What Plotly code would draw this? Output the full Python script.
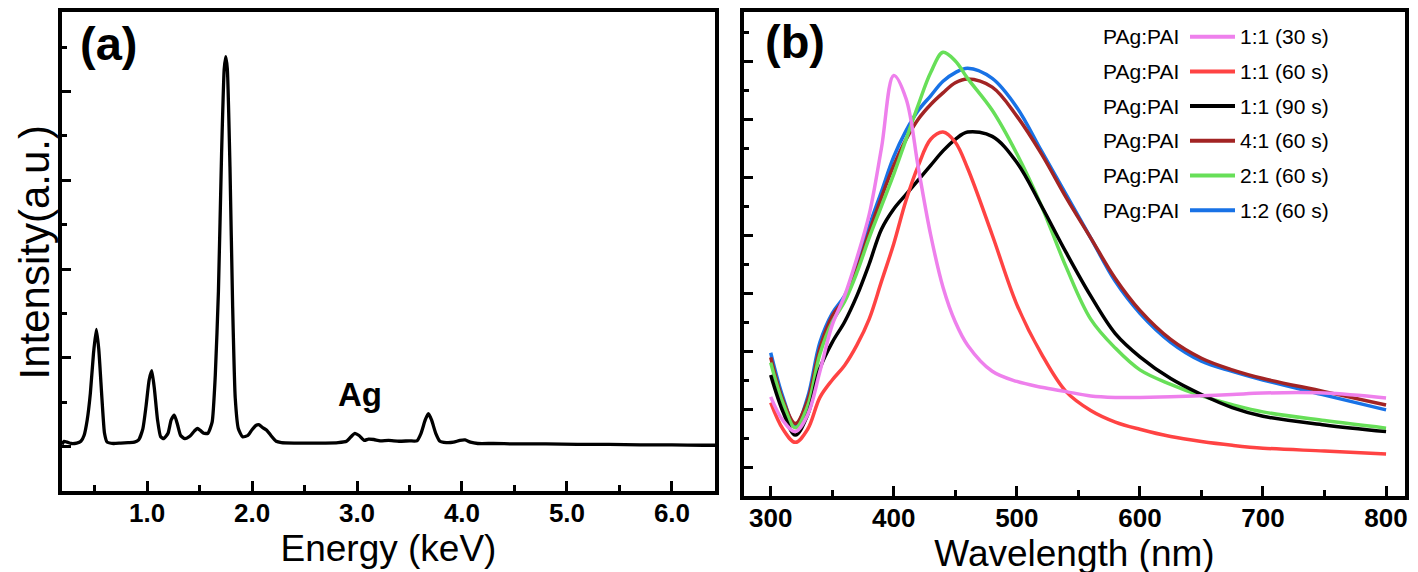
import plotly.graph_objects as go

W, H = 1418, 572
PAGE_OFFSET = 8  # default body margin of the html page

# ---------------- Panel (a): EDS spectrum ----------------
energy_kev = [0.19, 0.21, 0.24, 0.28, 0.33, 0.37, 0.40, 0.43, 0.46, 0.49, 0.517, 0.54, 0.57, 0.595,
              0.62, 0.68, 0.75, 0.82, 0.88, 0.92, 0.96, 0.99, 1.02, 1.045, 1.07, 1.10, 1.13, 1.16,
              1.20, 1.23, 1.26, 1.29, 1.32, 1.36, 1.41, 1.45, 1.48, 1.51, 1.54, 1.58, 1.62, 1.65,
              1.68, 1.71, 1.735, 1.75, 1.765, 1.79, 1.815, 1.84, 1.87, 1.91, 1.96, 2.00, 2.04, 2.07,
              2.10, 2.14, 2.18, 2.23, 2.28, 2.40, 2.55, 2.70, 2.82, 2.90, 2.95, 2.98, 3.02, 3.07,
              3.11, 3.16, 3.22, 3.30, 3.40, 3.50, 3.57, 3.61, 3.65, 3.68, 3.71, 3.75, 3.79, 3.85,
              3.92, 3.98, 4.03, 4.08, 4.15, 4.30, 4.50, 4.80, 5.10, 5.40, 5.70, 6.00, 6.30, 6.41]
eds_intensity = [1.05, 1.12, 1.10, 1.07, 1.08, 1.12, 1.25, 1.6, 2.2, 3.1, 3.64, 3.2, 2.1, 1.3,
                 1.10, 1.07, 1.08, 1.09, 1.10, 1.15, 1.4, 1.9, 2.5, 2.71, 2.3, 1.6, 1.22, 1.18,
                 1.30, 1.6, 1.71, 1.5, 1.25, 1.18, 1.24, 1.35, 1.41, 1.36, 1.30, 1.30, 1.55, 2.6,
                 4.5, 7.6, 9.5, 9.78, 9.5, 7.3, 4.2, 2.1, 1.4, 1.22, 1.25, 1.38, 1.48, 1.49,
                 1.43, 1.37, 1.25, 1.12, 1.09, 1.08, 1.08, 1.08, 1.09, 1.12, 1.24, 1.30, 1.25, 1.14,
                 1.17, 1.16, 1.13, 1.14, 1.12, 1.13, 1.13, 1.3, 1.6, 1.74, 1.6, 1.3, 1.12, 1.09,
                 1.10, 1.14, 1.15, 1.10, 1.07, 1.07, 1.06, 1.06, 1.05, 1.05, 1.04, 1.04, 1.03, 1.03]
eds_x_ticks = [1, 2, 3, 4, 5, 6]
eds_x_ticktext = ["1.0", "2.0", "3.0", "4.0", "5.0", "6.0"]
eds_peak_label = "Ag"
eds_peak_pos = (3.03, 2.18)

# ---------------- Panel (b): absorption spectra ----------------
wavelength_nm = [300, 310, 320, 330, 340, 350, 360, 370, 380, 390, 400, 410, 420, 430, 440, 450,
                 460, 480, 500, 520, 540, 560, 580, 600, 625, 650, 675, 700, 750, 800]
abs_1_1_30s = [3.42, 2.6, 2.22, 2.8, 4.3, 5.9, 6.9, 8.2, 9.7, 12.0, 14.5, 13.7, 11.3, 9.0, 7.2, 6.0,
               5.2, 4.3, 3.95, 3.75, 3.6, 3.45, 3.4, 3.4, 3.42, 3.46, 3.5, 3.55, 3.55, 3.38]
abs_1_1_60s = [3.22, 2.3, 1.85, 2.3, 3.4, 4.0, 4.5, 5.2, 6.1, 7.4, 8.7, 10.2, 11.4, 12.3, 12.55, 12.2,
               11.3, 9.0, 6.6, 4.9, 3.6, 2.95, 2.55, 2.3, 2.05, 1.88, 1.75, 1.65, 1.55, 1.45]
abs_1_1_90s = [4.17, 2.9, 2.1, 2.8, 4.4, 5.3, 6.0, 6.9, 8.0, 9.2, 9.9, 10.4, 10.9, 11.4, 11.9, 12.3,
               12.55, 12.4, 11.5, 10.0, 8.4, 6.9, 5.6, 4.8, 4.05, 3.5, 3.05, 2.75, 2.45, 2.22]
abs_4_1_60s = [4.78, 3.3, 2.5, 3.3, 5.1, 6.2, 6.8, 7.8, 9.1, 10.3, 11.4, 12.3, 13.0, 13.5, 13.9, 14.25,
               14.38, 14.1, 13.1, 11.8, 10.3, 8.9, 7.5, 6.4, 5.4, 4.75, 4.35, 4.05, 3.6, 3.14]
abs_2_1_60s = [4.6, 3.2, 2.35, 3.1, 4.9, 6.0, 6.7, 7.7, 8.9, 10.0, 11.1, 12.3, 13.5, 14.6, 15.3, 15.0,
               14.4, 13.3, 11.8, 10.0, 7.9, 6.1, 5.1, 4.35, 3.85, 3.45, 3.15, 2.9, 2.6, 2.34]
abs_1_2_60s = [4.94, 3.4, 2.4, 3.4, 5.3, 6.3, 6.9, 7.9, 9.3, 10.5, 11.7, 12.6, 13.3, 13.8, 14.3, 14.6,
               14.75, 14.4, 13.4, 11.9, 10.4, 8.9, 7.4, 6.3, 5.3, 4.65, 4.3, 4.0, 3.48, 2.97]
series_prefix = "PAg:PAI"
series_labels = ["1:1 (30 s)", "1:1 (60 s)", "1:1 (90 s)", "4:1 (60 s)", "2:1 (60 s)", "1:2 (60 s)"]
series_values = [abs_1_1_30s, abs_1_1_60s, abs_1_1_90s, abs_4_1_60s, abs_2_1_60s, abs_1_2_60s]
series_colors = ["#EE80EC", "#FF4343", "#000000", "#A22424", "#67DF58", "#1872E6"]
draw_order = [5, 3, 4, 2, 1, 0]
wl_x_ticks = [300, 400, 500, 600, 700, 800]

FONT = "Liberation Sans, Arial, sans-serif"

TOP_PX = 11.5           # highest frame position reachable on the page
A_BOTTOM, A_UNIT = 491, 44.4
B_BOTTOM, B_UNIT = 496, 29.0


def px_x(p):
    return (p - PAGE_OFFSET) / W


def px_y(p):
    return 1 - (p - PAGE_OFFSET) / H


fig = go.Figure()

fig.add_trace(go.Scatter(
    x=energy_kev, y=eds_intensity, mode="lines",
    line=dict(color="black", width=3.3, shape="spline", smoothing=0.5),
    xaxis="x", yaxis="y", showlegend=False, name="EDS"))

for i in draw_order:
    fig.add_trace(go.Scatter(
        x=wavelength_nm, y=series_values[i], mode="lines",
        line=dict(color=series_colors[i], width=3.5, shape="spline", smoothing=1.0),
        xaxis="x2", yaxis="y2", showlegend=False,
        name=f"{series_prefix} {series_labels[i]}"))

frame = dict(showline=True, linewidth=3.5, linecolor="black", mirror=True,
             showgrid=False, zeroline=False, automargin=False)

fig.update_layout(
    width=W, height=H,
    margin=dict(l=0, r=0, t=0, b=0),
    paper_bgcolor="white", plot_bgcolor="white",
    font=dict(family=FONT, color="black"),
    xaxis=dict(domain=[px_x(62), px_x(715)], range=[0.19, 6.41],
               tickvals=eds_x_ticks, ticktext=eds_x_ticktext,
               ticks="inside", ticklen=10, tickwidth=3, tickcolor="black",
               minor=dict(tickvals=[0.5, 1.5, 2.5, 3.5, 4.5, 5.5], ticks="inside",
                          ticklen=6, tickwidth=3, tickcolor="black"),
               tickfont=dict(family=FONT, size=26, weight="bold"),
               ticklabelstandoff=-4,
               title=dict(text="Energy (keV)", font=dict(family=FONT, size=37), standoff=6),
               anchor="y", **frame),
    yaxis=dict(domain=[px_y(A_BOTTOM), px_y(TOP_PX)],
               range=[0, (A_BOTTOM - TOP_PX) / A_UNIT],
               tickvals=[1, 3, 5, 7, 9], showticklabels=False,
               ticks="inside", ticklen=9, tickwidth=3, tickcolor="black",
               minor=dict(tickvals=[2, 4, 6, 8, 10], ticks="inside",
                          ticklen=5, tickwidth=3, tickcolor="black"),
               anchor="x", **frame),
    xaxis2=dict(domain=[px_x(744), px_x(1405)], range=[278.3, 815.4],
                tickvals=wl_x_ticks,
                ticks="inside", ticklen=10, tickwidth=3, tickcolor="black",
                minor=dict(tickvals=[350, 450, 550, 650, 750], ticks="inside",
                           ticklen=6, tickwidth=3, tickcolor="black"),
                tickfont=dict(family=FONT, size=26, weight="bold"),
                ticklabelstandoff=-4,
                title=dict(text="Wavelength (nm)", font=dict(family=FONT, size=37), standoff=1),
                anchor="y2", **frame),
    yaxis2=dict(domain=[px_y(B_BOTTOM), px_y(TOP_PX)],
                range=[0, (B_BOTTOM - TOP_PX) / B_UNIT],
                tickvals=[1, 3, 5, 7, 9, 11, 13, 15], showticklabels=False,
                ticks="inside", ticklen=9, tickwidth=3, tickcolor="black",
                minor=dict(tickvals=[2, 4, 6, 8, 10, 12, 14, 16], ticks="inside",
                           ticklen=5, tickwidth=3, tickcolor="black"),
                anchor="x2", **frame),
)

annotations = [
    dict(text="Intensity(a.u.)", xref="paper", yref="paper", x=px_x(8), y=px_y(253),
         xanchor="left", yanchor="middle", textangle=-90, showarrow=False,
         font=dict(family=FONT, size=42)),
    dict(text="<b>(a)</b>", xref="paper", yref="paper", x=px_x(78), y=px_y(44),
         xanchor="left", yanchor="middle", showarrow=False,
         font=dict(family=FONT, size=47)),
    dict(text="<b>(b)</b>", xref="paper", yref="paper", x=px_x(763), y=px_y(41),
         xanchor="left", yanchor="middle", showarrow=False,
         font=dict(family=FONT, size=47)),
    dict(text=f"<b>{eds_peak_label}</b>", xref="x", yref="y",
         x=eds_peak_pos[0], y=eds_peak_pos[1], xanchor="center", yanchor="middle",
         showarrow=False, font=dict(family=FONT, size=33)),
]

shapes = []
row0, row_gap = 36.7, 34.7
for i, lab in enumerate(series_labels):
    ry = row0 + i * row_gap
    annotations.append(dict(text=series_prefix, xref="paper", yref="paper",
                            x=px_x(1181), y=px_y(ry), xanchor="right", yanchor="middle",
                            showarrow=False, font=dict(family=FONT, size=21)))
    annotations.append(dict(text=lab, xref="paper", yref="paper",
                            x=px_x(1238), y=px_y(ry), xanchor="left", yanchor="middle",
                            showarrow=False, font=dict(family=FONT, size=21)))
    shapes.append(dict(type="line", xref="paper", yref="paper",
                       x0=px_x(1190), x1=px_x(1235), y0=px_y(ry), y1=px_y(ry),
                       line=dict(color=series_colors[i], width=4)))

fig.update_layout(annotations=annotations, shapes=shapes)

fig.write_html("out.html")
